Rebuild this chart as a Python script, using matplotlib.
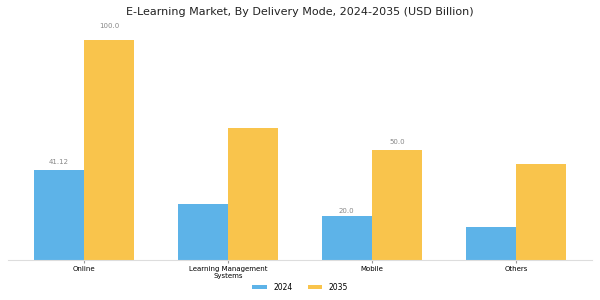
import matplotlib
matplotlib.use("Agg")
import matplotlib.pyplot as plt
import numpy as np

categories = ["Online", "Learning Management\nSystems", "Mobile", "Others"]
values_2024 = [41.12, 25.5, 20.0, 15.0]
values_2035 = [100.0, 60.0, 50.0, 43.5]
labels_2024 = ["41.12", None, "20.0", None]
labels_2035 = ["100.0", None, "50.0", None]

c24 = "#5DB3E8"
c35 = "#F9C44C"

fig = plt.figure(figsize=(6, 3), dpi=100)
ax = fig.add_axes([0.013, 0.133, 0.974, 0.77])
x = np.arange(len(categories))
w = 0.35
b1 = ax.bar(x - w/2, values_2024, w, color=c24, label="2024")
b2 = ax.bar(x + w/2, values_2035, w, color=c35, label="2035")

for xi, v, lab in zip(x - w/2, values_2024, labels_2024):
    if lab:
        ax.text(xi, v * 1.05, lab, ha="center", va="bottom", fontsize=5, color="#888888")
for xi, v, lab in zip(x + w/2, values_2035, labels_2035):
    if lab:
        ax.text(xi, v * 1.05, lab, ha="center", va="bottom", fontsize=5, color="#888888")

ax.set_xlim(-0.53, 3.53)
ax.set_ylim(0, 105)
ax.set_xticks(x)
ax.set_xticklabels(categories, fontsize=5, linespacing=1.15)
ax.tick_params(axis="x", length=2, pad=2.5, color="#999999")
ax.set_yticks([])
for s in ["top", "right", "left"]:
    ax.spines[s].set_visible(False)
ax.spines["bottom"].set_color("#dddddd")

fig.text(0.5, 0.96, "E-Learning Market, By Delivery Mode, 2024-2035 (USD Billion)", fontsize=8,
         ha="center", va="center", color="#222222")
fig.legend(handles=[b1, b2], labels=["2024", "2035"], loc="center", ncol=2, frameon=False,
           fontsize=5.5, bbox_to_anchor=(0.5, 0.043), handlelength=1.9, handleheight=0.5,
           handletextpad=0.8, columnspacing=2.0)

fig.savefig("out.png", dpi=100)
